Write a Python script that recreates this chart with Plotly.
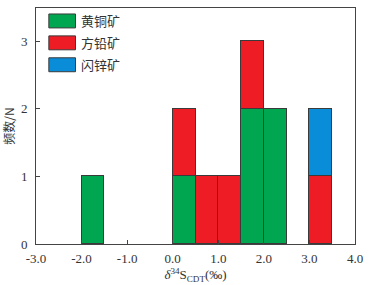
import plotly.graph_objects as go

# data
series_names = ["黄铜矿", "方铅矿", "闪锌矿"]
green_x = [-1.75, 0.25, 1.75, 2.25]
green_y = [1, 1, 2, 2]
red_x = [0.25, 0.75, 1.25, 1.75, 3.25]
red_y = [1, 1, 1, 1, 1]
blue_x = [3.25]
blue_y = [1]
x_ticks = [-3, -2, -1, 0, 1, 2, 3, 4]
x_ticktext = ["-3.0", "-2.0", "-1.0", "0.0", "1.0", "2.0", "3.0", "4.0"]
y_ticks = [0, 1, 2, 3]

colors = ["#00A650", "#EE1C25", "#0A8DD8"]
edge = "#3a3a3a"
font_family = "Liberation Serif, Noto Sans CJK SC, serif"

fig = go.Figure()
for name, xs, ys, c in zip(series_names, [green_x, red_x, blue_x], [green_y, red_y, blue_y], colors):
    fig.add_trace(go.Bar(x=xs, y=ys, width=0.5, name=name, marker=dict(color=c, line=dict(color=edge, width=1.3)),
                         showlegend=False))

# legend drawn as boxes
legend_top = [13, 35, 57]
shapes = []
annotations = []
for name, c, t in zip(series_names, colors, legend_top):
    shapes.append(dict(type="rect", xref="paper", yref="paper",
                       x0=(49 - 36) / 323, x1=(76 - 36) / 323,
                       y0=(244 - t) / 237, y1=(244 - t - 14) / 237,
                       fillcolor=c, line=dict(color=edge, width=1)))
    annotations.append(dict(xref="paper", yref="paper", x=(80 - 36) / 323, y=(244 - t - 7) / 237,
                            text=name, showarrow=False, xanchor="left", yanchor="middle",
                            font=dict(size=13, color="#333", family="Noto Sans CJK SC")))

fig.update_layout(
    width=370, height=285,
    margin=dict(l=36, r=11, t=7, b=41),
    barmode="stack", bargap=0,
    plot_bgcolor="white", paper_bgcolor="white",
    font=dict(family=font_family, size=13, color="#333"),
    shapes=shapes, annotations=annotations,
    xaxis=dict(range=[-3, 4], tickvals=x_ticks, ticktext=x_ticktext, ticks="inside", ticklen=4,
               ticklabelstandoff=2,
               tickcolor="#444", showline=True, linecolor="#444", linewidth=1, mirror=True,
               showgrid=False, zeroline=False,
               title=dict(text="<i>δ</i><sup>34</sup>S<sub>CDT</sub>(‰)", font=dict(size=13), standoff=3)),
    yaxis=dict(range=[0, 3.49], tickvals=y_ticks, ticks="inside", ticklen=4, ticklabelstandoff=5,
               tickcolor="#444", showline=True, linecolor="#444", linewidth=1, mirror=True,
               showgrid=False, zeroline=False,
               title=dict(text="频数/N", font=dict(size=12, family="Noto Sans CJK SC"), standoff=4)),
)

fig.write_html("out.html", config={"displayModeBar": False},
               post_script="document.body.style.margin='0';document.body.style.overflow='hidden';")
